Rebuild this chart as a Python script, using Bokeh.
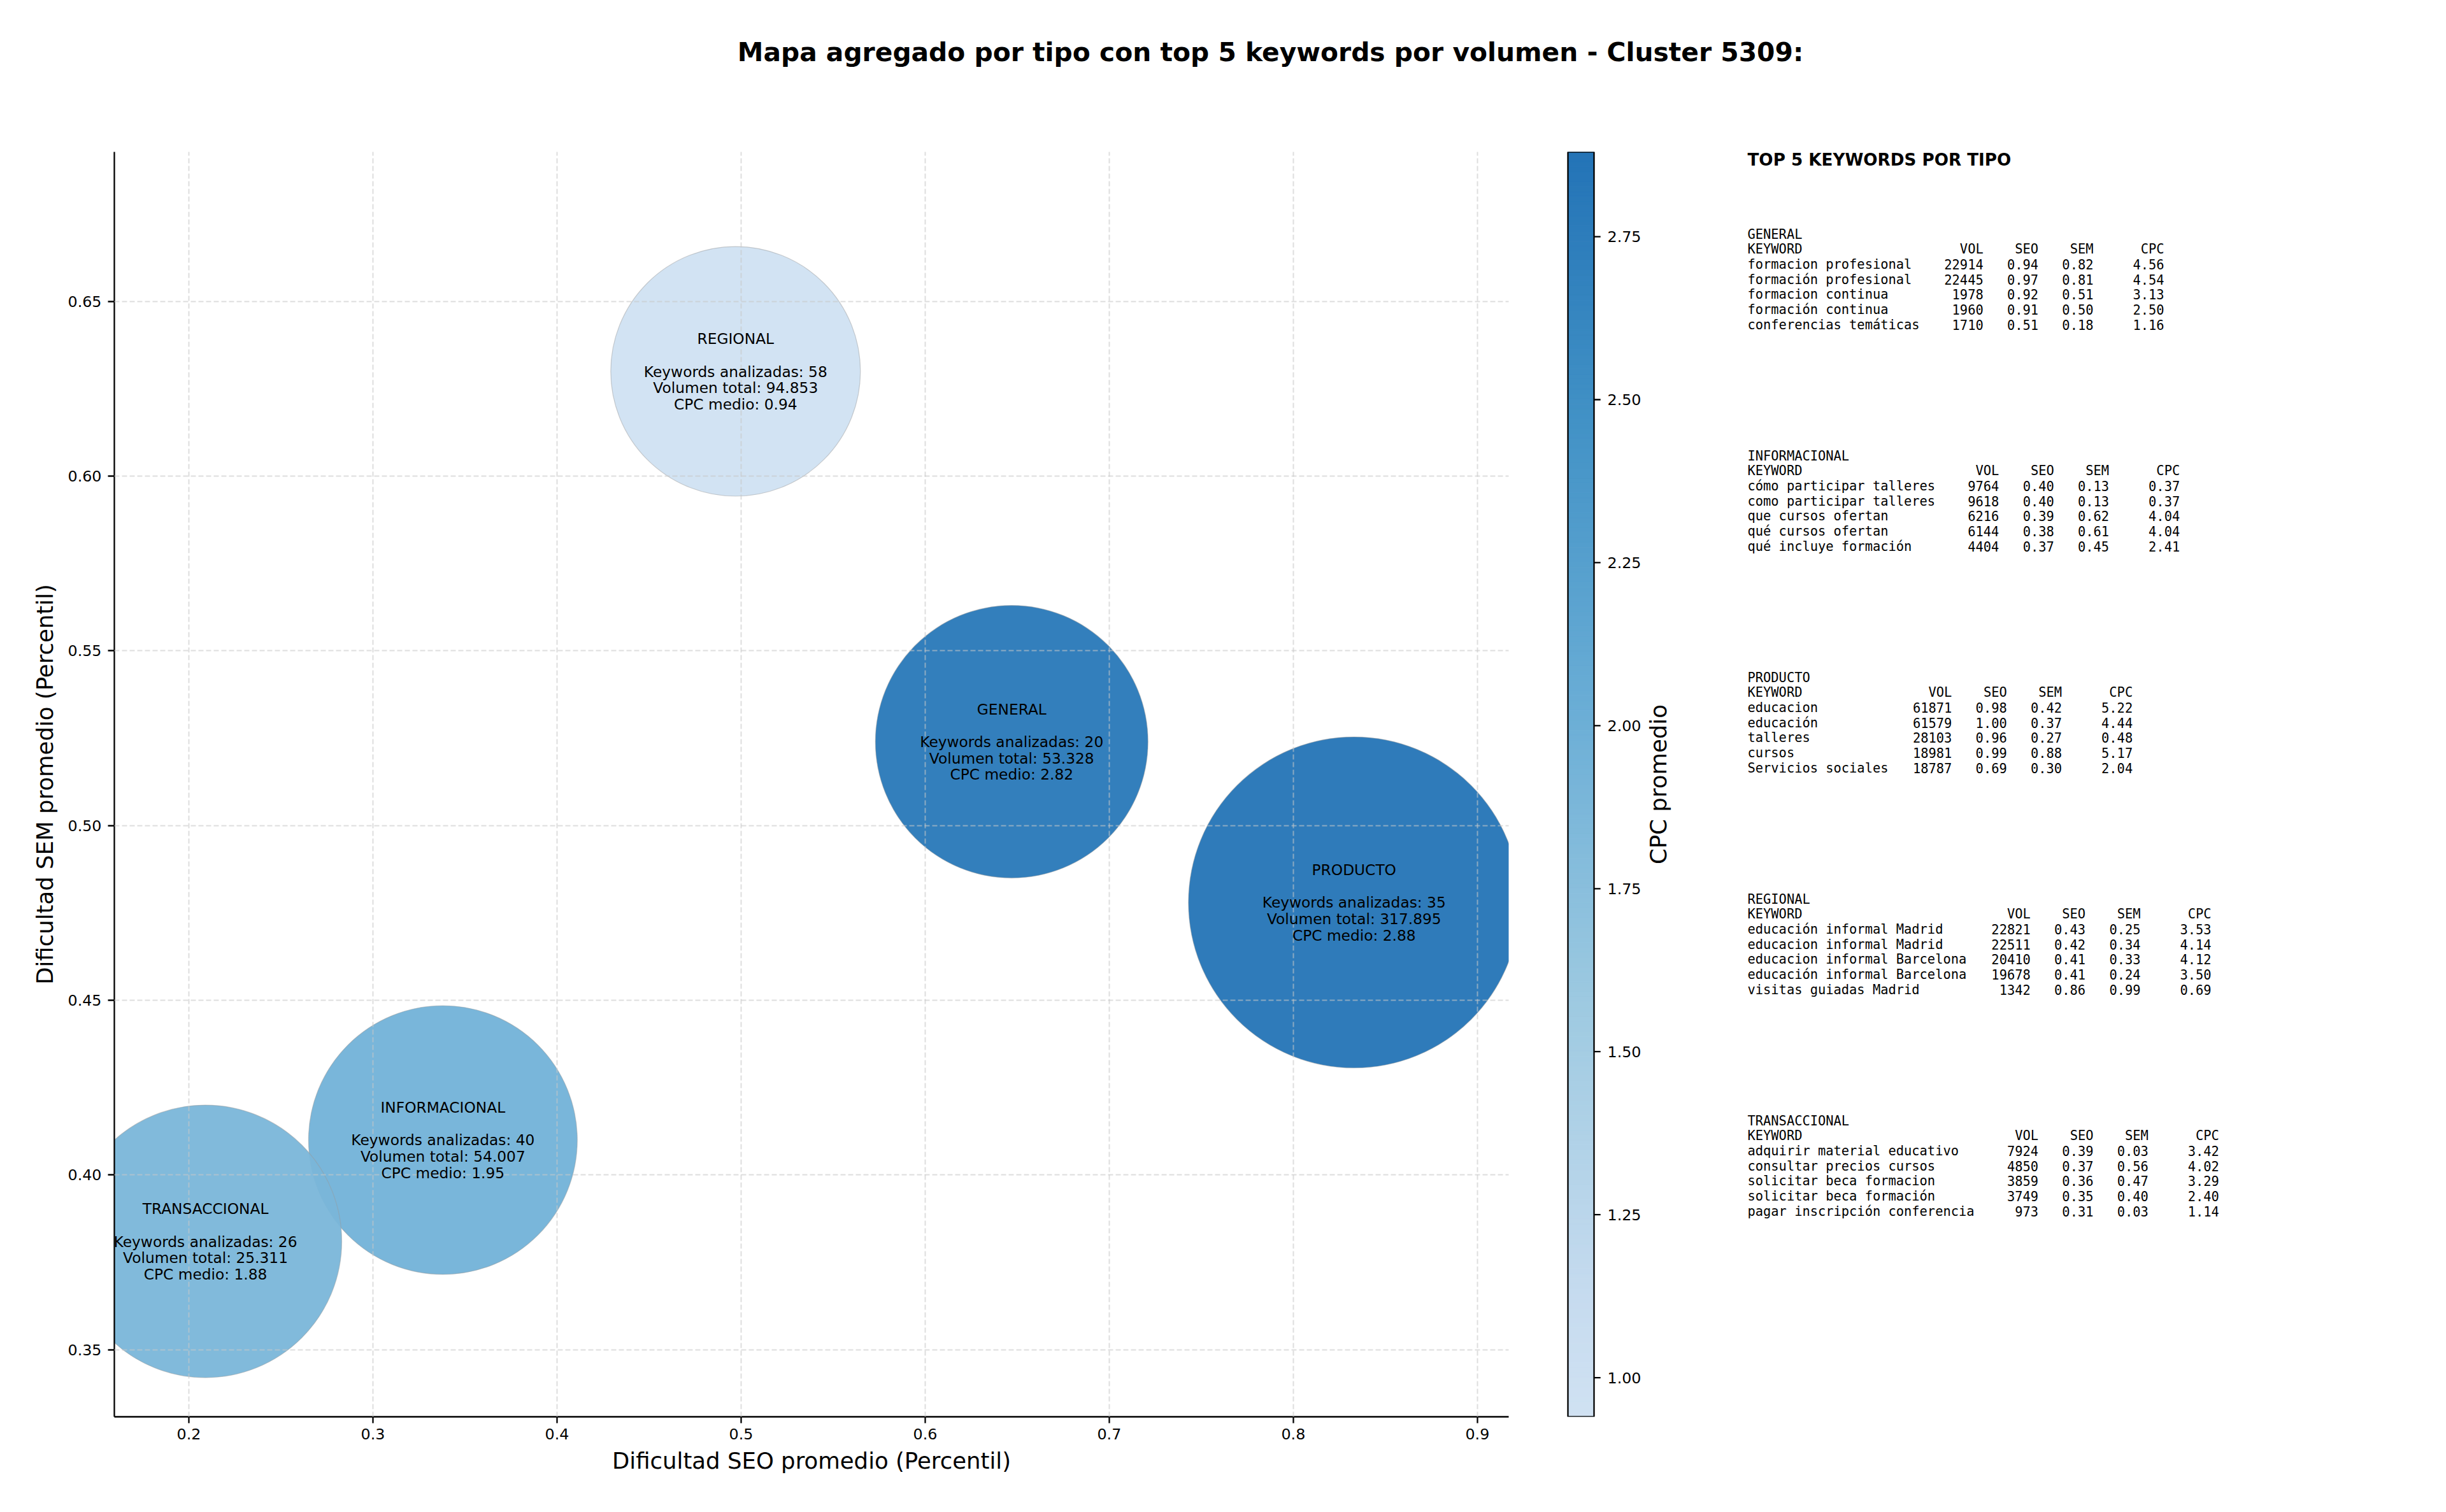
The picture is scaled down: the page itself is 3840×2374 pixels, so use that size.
import numpy as np
from bokeh.plotting import figure
from bokeh.models import ColumnDataSource, Range1d, FixedTicker, NumeralTickFormatter
from bokeh.transform import linear_cmap
from bokeh.layouts import column, row
from bokeh.core.properties import value
from bokeh.embed import file_html
from bokeh.resources import INLINE

# ---------------- data ----------------
title_text = "Mapa agregado por tipo con top 5 keywords por volumen - Cluster 5309:"
x_label = "Dificultad SEO promedio (Percentil)"
y_label = "Dificultad SEM promedio (Percentil)"
cbar_label = "CPC promedio"
panel_heading = "TOP 5 KEYWORDS POR TIPO"
table_header = ["KEYWORD", "VOL", "SEO", "SEM", "CPC"]

tipos = ["GENERAL", "INFORMACIONAL", "PRODUCTO", "REGIONAL", "TRANSACCIONAL"]
seo_medio = [0.647, 0.338, 0.833, 0.497, 0.209]
sem_medio = [0.524, 0.410, 0.478, 0.630, 0.381]
keywords_analizadas = [20, 40, 35, 58, 26]
volumen_total = [53328, 54007, 317895, 94853, 25311]
cpc_medio = [2.82, 1.95, 2.88, 0.94, 1.88]
bubble_area = [21530, 20930, 31790, 18060, 21530]  # marker area in pt^2

top_general = [
    ("formacion profesional", 22914, 0.94, 0.82, 4.56),
    ("formación profesional", 22445, 0.97, 0.81, 4.54),
    ("formacion continua", 1978, 0.92, 0.51, 3.13),
    ("formación continua", 1960, 0.91, 0.50, 2.50),
    ("conferencias temáticas", 1710, 0.51, 0.18, 1.16),
]
top_informacional = [
    ("cómo participar talleres", 9764, 0.40, 0.13, 0.37),
    ("como participar talleres", 9618, 0.40, 0.13, 0.37),
    ("que cursos ofertan", 6216, 0.39, 0.62, 4.04),
    ("qué cursos ofertan", 6144, 0.38, 0.61, 4.04),
    ("qué incluye formación", 4404, 0.37, 0.45, 2.41),
]
top_producto = [
    ("educacion", 61871, 0.98, 0.42, 5.22),
    ("educación", 61579, 1.00, 0.37, 4.44),
    ("talleres", 28103, 0.96, 0.27, 0.48),
    ("cursos", 18981, 0.99, 0.88, 5.17),
    ("Servicios sociales", 18787, 0.69, 0.30, 2.04),
]
top_regional = [
    ("educación informal Madrid", 22821, 0.43, 0.25, 3.53),
    ("educacion informal Madrid", 22511, 0.42, 0.34, 4.14),
    ("educacion informal Barcelona", 20410, 0.41, 0.33, 4.12),
    ("educación informal Barcelona", 19678, 0.41, 0.24, 3.50),
    ("visitas guiadas Madrid", 1342, 0.86, 0.99, 0.69),
]
top_transaccional = [
    ("adquirir material educativo", 7924, 0.39, 0.03, 3.42),
    ("consultar precios cursos", 4850, 0.37, 0.56, 4.02),
    ("solicitar beca formacion", 3859, 0.36, 0.47, 3.29),
    ("solicitar beca formación", 3749, 0.35, 0.40, 2.40),
    ("pagar inscripción conferencia", 973, 0.31, 0.03, 1.14),
]
top_tables = [top_general, top_informacional, top_producto, top_regional, top_transaccional]

x_ticks = [0.2, 0.3, 0.4, 0.5, 0.6, 0.7, 0.8, 0.9]
y_ticks = [0.35, 0.40, 0.45, 0.50, 0.55, 0.60, 0.65]
cbar_ticks = [1.00, 1.25, 1.50, 1.75, 2.00, 2.25, 2.50, 2.75]

# ---------------- styling ----------------
BLUES = ["#f7fbff", "#deebf7", "#c6dbef", "#9ecae1", "#6baed6",
         "#4292c6", "#2171b5", "#08519c", "#08306b"]


def _rgb(h):
    return tuple(int(h[i:i + 2], 16) for i in (1, 3, 5))


def blues_at(t):
    pos = t * (len(BLUES) - 1)
    i = min(int(pos), len(BLUES) - 2)
    f = pos - i
    a, b = _rgb(BLUES[i]), _rgb(BLUES[i + 1])
    return "#%02x%02x%02x" % tuple(int(round(a[k] + (b[k] - a[k]) * f)) for k in range(3))


palette = [blues_at(0.2 + 0.54 * k / 255) for k in range(256)]
cpc_lo, cpc_hi = min(cpc_medio), max(cpc_medio)

SANS = "DejaVu Sans"
MONO = "DejaVu Sans Mono"
TOTAL_W = 3832
TITLE_H = 154
BORDER_T = 84
BORDER_B = 134
ROW_H = 2204
MAIN_W = 2408
CB_W = 232
TXT_W = TOTAL_W - MAIN_W - CB_W
FRAME_TOP = TITLE_H + BORDER_T           # 238
FRAME_BOT = TITLE_H + ROW_H - BORDER_B   # 2224
TICK_PX = "23.8px"
LABEL_PX = "35.5px"
LW = 2.3
DPI = 210


def style_axis(ax):
    ax.axis_line_color = "black"
    ax.axis_line_width = LW
    ax.major_tick_line_color = "black"
    ax.major_tick_line_width = LW
    ax.major_tick_in = 0
    ax.major_tick_out = 10
    ax.minor_tick_line_color = None
    ax.major_label_text_font = SANS
    ax.major_label_text_font_size = TICK_PX
    ax.major_label_text_color = "black"
    ax.major_label_standoff = 10
    ax.axis_label_text_font = SANS
    ax.axis_label_text_font_size = LABEL_PX
    ax.axis_label_text_font_style = "normal"
    ax.axis_label_text_color = "black"


def blank_fig(w, h, xr, yr, **kw):
    f = figure(width=w, height=h, x_range=xr, y_range=yr,
               x_axis_location=None, y_axis_location=None,
               output_backend="svg", toolbar_location=None, **kw)
    f.outline_line_color = None
    f.grid.visible = False
    return f


# ---------------- title strip ----------------
tf = blank_fig(TOTAL_W, TITLE_H, Range1d(0, TOTAL_W), Range1d(TITLE_H, 0), min_border=0)
tf.text(x=[1994], y=[81], text=[title_text], text_align="center", text_baseline="middle",
        text_font=value(SANS), text_font_style="bold", text_font_size=value("40.8px"),
        text_color="black")

# ---------------- main bubble chart ----------------
p = figure(width=MAIN_W, height=ROW_H,
           x_range=Range1d(0.1595, 0.9170), y_range=Range1d(0.3308, 0.6928),
           min_border_left=179, min_border_right=40,
           min_border_top=BORDER_T, min_border_bottom=BORDER_B,
           output_backend="svg", toolbar_location=None)
p.outline_line_color = None

size_px = [float(np.sqrt(a)) * DPI / 72.0 for a in bubble_area]


def fmt_thousands(v):
    return f"{v:,}".replace(",", ".")


src = ColumnDataSource(dict(
    tipo=tipos, seo=seo_medio, sem=sem_medio, cpc=cpc_medio, size=size_px,
    t_kw=[f"Keywords analizadas: {n}" for n in keywords_analizadas],
    t_vol=[f"Volumen total: {fmt_thousands(v)}" for v in volumen_total],
    t_cpc=[f"CPC medio: {c:.2f}" for c in cpc_medio],
))

p.scatter("seo", "sem", size="size", source=src,
          fill_color=linear_cmap("cpc", palette, cpc_lo, cpc_hi), fill_alpha=0.95,
          line_color="#9a9a9a", line_alpha=0.45, line_width=1.2)

LINE = 25.7
for field, k in [("tipo", -2), ("t_kw", 0), ("t_vol", 1), ("t_cpc", 2)]:
    r = p.text("seo", "sem", text=field, source=src, y_offset=k * LINE,
               text_align="center", text_baseline="middle",
               text_font=value(SANS), text_font_size=value("23.3px"), text_color="black")
    r.level = "annotation"

p.xaxis.ticker = FixedTicker(ticks=x_ticks)
p.yaxis.ticker = FixedTicker(ticks=y_ticks)
p.xgrid.ticker = FixedTicker(ticks=x_ticks)
p.ygrid.ticker = FixedTicker(ticks=y_ticks)
p.xaxis.formatter = NumeralTickFormatter(format="0.0")
p.yaxis.formatter = NumeralTickFormatter(format="0.00")
p.grid.grid_line_color = "#c8c8c8"
p.grid.grid_line_alpha = 0.6
p.grid.grid_line_dash = "8 4"
p.grid.grid_line_width = 2
p.grid.level = "guide"
for ax in p.axis:
    style_axis(ax)
p.xaxis.major_label_standoff = 8
p.xaxis.axis_label = x_label
p.yaxis.axis_label = y_label
p.xaxis.axis_label_standoff = 10
p.yaxis.axis_label_standoff = 13

# ---------------- colour bar (drawn by hand) ----------------
CB_X0 = MAIN_W
cb = blank_fig(CB_W, ROW_H, Range1d(CB_X0, CB_X0 + CB_W), Range1d(cpc_lo, cpc_hi),
               min_border_left=0, min_border_right=0,
               min_border_top=BORDER_T, min_border_bottom=BORDER_B)
BAR_L, BAR_R = 2461, 2502
edges = np.linspace(cpc_lo, cpc_hi, len(palette) + 1)
cb.quad(left=BAR_L, right=BAR_R, bottom=edges[:-1], top=edges[1:],
        fill_color=palette, line_color=palette, line_width=1)
cb.quad(left=[BAR_L], right=[BAR_R], bottom=[cpc_lo], top=[cpc_hi],
        fill_color=None, line_color="black", line_width=LW)
cb.segment(x0=BAR_R, x1=BAR_R + 10.2, y0=cbar_ticks, y1=cbar_ticks,
           line_color="black", line_width=LW)
cb.text(x=BAR_R + 21, y=cbar_ticks, text=[f"{t:.2f}" for t in cbar_ticks],
        text_align="left", text_baseline="middle",
        text_font=value(SANS), text_font_size=value(TICK_PX), text_color="black")
cb.text(x=[2603], y=[(cpc_lo + cpc_hi) / 2], text=[cbar_label], angle=np.pi / 2,
        text_align="center", text_baseline="middle",
        text_font=value(SANS), text_font_size=value(LABEL_PX), text_color="black")

# ---------------- keyword tables ----------------
X0 = MAIN_W + CB_W
tx = blank_fig(TXT_W, ROW_H, Range1d(X0, X0 + TXT_W), Range1d(FRAME_BOT, FRAME_TOP),
               min_border_left=0, min_border_right=0,
               min_border_top=BORDER_T, min_border_bottom=BORDER_B)

TXT_LEFT = 2743
tx.text(x=[TXT_LEFT], y=[250], text=[panel_heading], text_align="left", text_baseline="middle",
        text_font=value(SANS), text_font_style="bold", text_font_size=value("26.2px"),
        text_color="black")

CW = 12.34       # monospace character advance (px)
ROW_STEP = 23.7
BLOCK_TOP = 367
BLOCK_STEP = 348

lx, ly, lt = [], [], []
rx, ry, rt = [], [], []
for b, (tipo, rows) in enumerate(zip(tipos, top_tables)):
    L = max(len(r[0]) for r in rows)
    vol_r = TXT_LEFT + (L + 2 + 6) * CW
    seo_r = vol_r + 7 * CW
    sem_r = seo_r + 7 * CW
    cpc_r = sem_r + 9 * CW
    yb = BLOCK_TOP + b * BLOCK_STEP
    lx += [TXT_LEFT, TXT_LEFT]
    ly += [yb, yb + ROW_STEP]
    lt += [tipo, table_header[0]]
    for xr, h in zip([vol_r, seo_r, sem_r, cpc_r], table_header[1:]):
        rx.append(xr); ry.append(yb + ROW_STEP); rt.append(h)
    for i, (kw, vol, seo, sem, cpc) in enumerate(rows):
        yy = yb + (2 + i) * ROW_STEP
        lx.append(TXT_LEFT); ly.append(yy); lt.append(kw)
        for xr, s in zip([vol_r, seo_r, sem_r, cpc_r],
                         [str(vol), f"{seo:.2f}", f"{sem:.2f}", f"{cpc:.2f}"]):
            rx.append(xr); ry.append(yy); rt.append(s)

tx.text(x=lx, y=ly, text=lt, text_align="left", text_baseline="middle",
        text_font=value(MONO), text_font_size=value("20.4px"), text_color="black")
tx.text(x=rx, y=ry, text=rt, text_align="right", text_baseline="middle",
        text_font=value(MONO), text_font_size=value("20.4px"), text_color="black")

layout = column(tf, row(p, cb, tx))
open("out.html", "w").write(file_html(layout, INLINE, title="Mapa agregado por tipo"))
